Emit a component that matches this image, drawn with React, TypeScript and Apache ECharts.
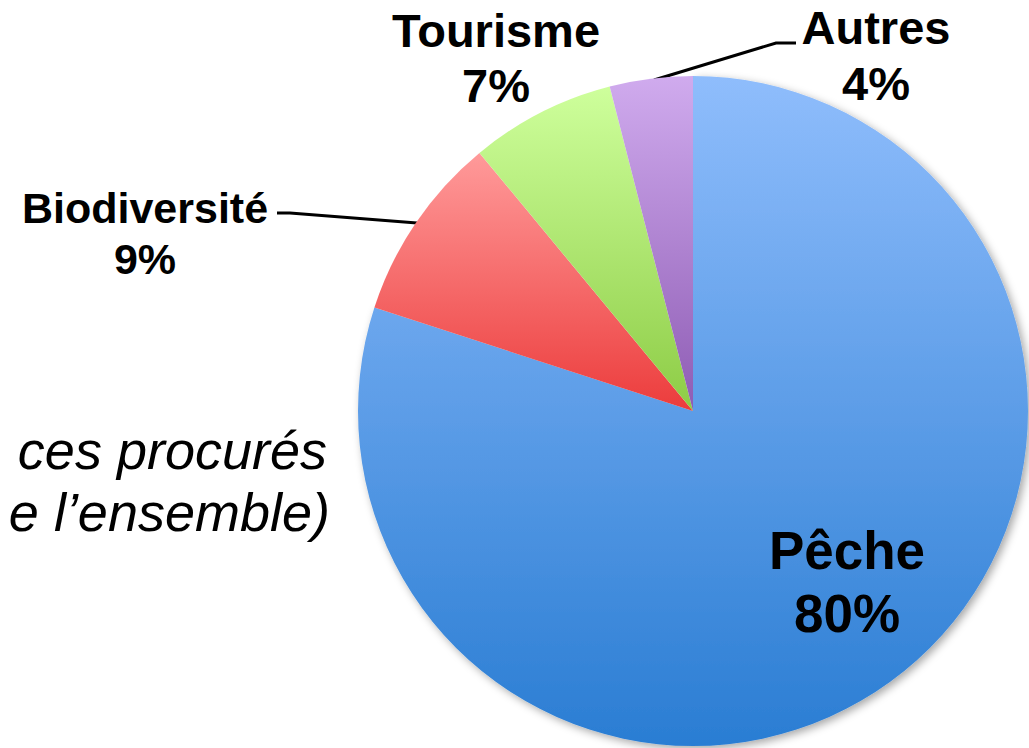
import React, { useEffect, useRef } from "react";
import * as echarts from "echarts";

const categories = ["Pêche", "Biodiversité", "Tourisme", "Autres"];
const values = [80, 9, 7, 4];
const captionLines = ["ces procurés", "e l’ensemble)"];

const gradients: [string, string][] = [
  ["#8fbdfc", "#2a7dd3"],
  ["#ff9a9a", "#ec3c3c"],
  ["#ceff9c", "#8dcc45"],
  ["#d0abee", "#8e5cb4"],
];

const FONT = "'Liberation Sans', Arial, Helvetica, sans-serif";

// label placement (layout only)
const labelPlacement = [
  { x: 847, y: 519, fontSize: 53, lineHeight: 63, line: null as number[][] | null },
  { x: 145, y: 182, fontSize: 43, lineHeight: 51, line: [[417, 223], [290, 213], [277, 213]] },
  { x: 496, y: 3, fontSize: 47, lineHeight: 55, line: null },
  { x: 876, y: -1, fontSize: 47, lineHeight: 56, line: [[654, 80], [776, 43], [796, 43]] },
];
const captionRight = [327, 330];

export default function App() {
  const ref = useRef<HTMLDivElement>(null);

  useEffect(() => {
    document.body.style.margin = "0";
    if (!ref.current) return;
    const chart = echarts.init(ref.current, null, { renderer: "svg" });

    const data = categories.map((name, i) => ({
      name,
      value: values[i],
      itemStyle: {
        color: new echarts.graphic.LinearGradient(0, 0, 0, 1, [
          { offset: 0, color: gradients[i][0] },
          { offset: 1, color: gradients[i][1] },
        ]),
        ...(i === 0
          ? {
              shadowBlur: 8,
              shadowColor: "rgba(0,0,0,0.35)",
              shadowOffsetX: 3,
              shadowOffsetY: 3,
            }
          : {}),
      },
      label: {
        position: i === 0 ? "inside" : "outside",
        fontSize: labelPlacement[i].fontSize,
        lineHeight: labelPlacement[i].lineHeight,
      },
      labelLine: { show: !!labelPlacement[i].line },
    }));

    chart.setOption({
      animation: false,
      backgroundColor: "#ffffff",
      graphic: captionLines.map((t, i) => ({
        type: "text",
        x: captionRight[i],
        y: 450 + i * 62,
        style: {
          text: t,
          font: `italic 54px ${FONT}`,
          fill: "#000000",
          align: "right",
          verticalAlign: "middle",
        },
      })),
      series: [
        {
          type: "pie",
          center: [693, 411],
          radius: 335,
          startAngle: 90,
          clockwise: true,
          avoidLabelOverlap: false,
          silent: true,
          data,
          label: {
            show: true,
            formatter: "{b}\n{c}%",
            color: "#000000",
            fontFamily: FONT,
            fontWeight: "bold",
            align: "center",
          },
          labelLine: {
            show: true,
            lineStyle: { color: "#000000", width: 3 },
          },
          labelLayout: (params: any) => {
            const p = labelPlacement[params.dataIndex];
            const res: any = {
              x: p.x,
              y: p.y,
              align: "center",
              verticalAlign: "top",
            };
            if (p.line) res.labelLinePoints = p.line;
            return res;
          },
        },
      ],
    });

    return () => chart.dispose();
  }, []);

  return <div ref={ref} style={{ width: 1029, height: 748 }} />;
}
